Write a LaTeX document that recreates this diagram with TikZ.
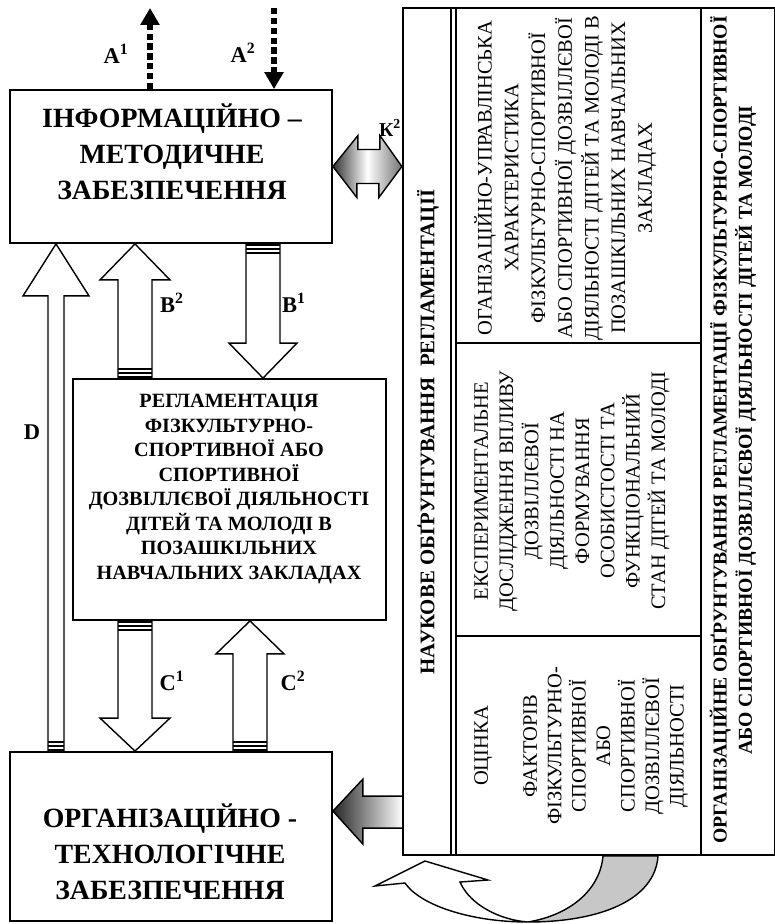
\documentclass[tikz,border=0pt]{standalone}
\usepackage{fontspec}
\setmainfont{Liberation Serif}
\usetikzlibrary{positioning,calc,arrows.meta}

% hollow block arrow: tail, tip, half shaft, half head, head length, +1 up / -1 down
\newcommand{\hollowarrow}[6]{%
  \draw[hollow] ($(#1)+(-#3,0)$) -- ($(#2)+(-#3,#6*#5)$) -- ($(#2)+(-#4,#6*#5)$) -- (#2)
    -- ($(#2)+(#4,#6*#5)$) -- ($(#2)+(#3,#6*#5)$) -- ($(#1)+(#3,0)$) -- cycle;
  \foreach \s in {1.5,5.5,9.5}
    \draw[stripe] ($(#1)+(-#3,{#6*(0-\s)})$) -- ($(#1)+(#3,{#6*(0-\s)})$);}

\begin{document}
\begin{tikzpicture}[
    x=0.25mm, y=-0.25mm,
    box/.style={draw, line width=1.3pt, inner sep=0pt},
    title/.style={font=\fontsize{19.8}{25.6}\selectfont\bfseries, align=center, inner sep=0pt},
    regtitle/.style={font=\fontsize{14.4}{17.4}\selectfont\bfseries, align=center, inner sep=0pt},
    coltitle/.style={font=\fontsize{14}{18}\selectfont\bfseries, align=center, inner sep=0pt, rotate=90},
    subtext/.style={font=\fontsize{14.6}{#1}\selectfont, align=center, inner sep=0pt, rotate=90, anchor=north},
    lbl/.style={font=\fontsize{16}{18}\selectfont\bfseries, inner sep=0pt},
    hollow/.style={draw, line width=1pt, fill=white},
    stripe/.style={line width=1.5pt},
    dotarrow/.style={-{Triangle[length=12pt,width=13pt]}, line width=4pt, dash pattern=on 4.5pt off 2.5pt},
    shadearrow/.style={draw, line width=1pt},
    frameline/.style={line width=1.3pt}
]
\useasboundingbox (0,0) rectangle (775,924);

% left blocks
\node[box, minimum width=80.5mm, minimum height=38.25mm] (info) at (171,166.5) {};
\node[title] (infotext) at (172,152) {ІНФОРМАЦІЙНО –\\МЕТОДИЧНЕ\\ЗАБЕЗПЕЧЕННЯ};

\node[box, minimum width=78.25mm, minimum height=60.25mm] (reg) at (229.5,499.5) {};
\node[regtitle] (regtext) at (229,489) {РЕГЛАМЕНТАЦІЯ\\ФІЗКУЛЬТУРНО-\\СПОРТИВНОЇ АБО\\СПОРТИВНОЇ\\ДОЗВІЛЛЄВОЇ ДІЯЛЬНОСТІ\\ДІТЕЙ ТА МОЛОДІ В\\ПОЗАШКІЛЬНИХ\\НАВЧАЛЬНИХ ЗАКЛАДАХ};

\node[box, minimum width=80.5mm, minimum height=42.25mm] (orgtech) at (171,836.5) {};
\node[title] (orgtext) at (170,852) {ОРГАНІЗАЦІЙНО -\\ТЕХНОЛОГІЧНЕ\\ЗАБЕЗПЕЧЕННЯ};

% right frame
\node[box, line width=1.6pt, minimum width=93mm, minimum height=211.75mm] (frame) at (589,431.5) {};
\draw[line width=1.4pt] ($(frame.north west)+(49,0)$) -- ($(frame.south west)+(49,0)$);
\draw[line width=1pt] ($(frame.north west)+(54,0)$) -- ($(frame.south west)+(54,0)$);
\draw[frameline] ($(frame.north west)+(299,0)$) -- ($(frame.south west)+(299,0)$);
\draw[frameline] ($(frame.north west)+(54,336)$) -- ++(245,0);
\draw[frameline] ($(frame.north west)+(54,629)$) -- ++(245,0);

\node[coltitle, font=\fontsize{14.8}{18}\selectfont\bfseries] (sci) at (428,432) {НАУКОВЕ ОБҐРУНТУВАННЯ \ РЕГЛАМЕНТАЦІЇ};
\node[subtext=19pt] (sub1) at (474,178) {ОГАНІЗАЦІЙНО-УПРАВЛІНСЬКА\\ХАРАКТЕРИСТИКА\\ФІЗКУЛЬТУРНО-СПОРТИВНОЇ\\АБО СПОРТИВНОЇ ДОЗВІЛЛЄВОЇ\\ДІЯЛЬНОСТІ ДІТЕЙ ТА МОЛОДІ В\\ПОЗАШКІЛЬНИХ НАВЧАЛЬНИХ\\ЗАКЛАДАХ};
\node[subtext=18pt] (sub2) at (474,491) {ЕКСПЕРИМЕНТАЛЬНЕ\\ДОСЛІДЖЕННЯ ВПЛИВУ\\ДОЗВІЛЛЄВОЇ\\ДІЯЛЬНОСТІ НА\\ФОРМУВАННЯ\\ОСОБИСТОСТІ ТА\\ФУНКЦІОНАЛЬНИЙ\\СТАН ДІТЕЙ ТА МОЛОДІ};
\node[subtext=17.4pt] (sub3) at (474,746) {ОЦІНКА\\[17.4pt]ФАКТОРІВ\\ФІЗКУЛЬТУРНО-\\СПОРТИВНОЇ\\АБО\\СПОРТИВНОЇ\\ДОЗВІЛЛЄВОЇ\\ДІЯЛЬНОСТІ};
\node[coltitle] (orgfound) at (733,430) {ОРГАНІЗАЦІЙНЕ ОБҐРУНТУВАННЯ РЕГЛАМЕНТАЦІЇ ФІЗКУЛЬТУРНО-СПОРТИВНОЇ\\АБО СПОРТИВНОЇ ДОЗВІЛЛЄВОЇ ДІЯЛЬНОСТІ ДІТЕЙ ТА МОЛОДІ};

% dotted inputs / outputs
\coordinate (a1end) at (150,8);
\coordinate (a2start) at (274,8);
\draw[dotarrow] (a1end |- info.north) -- (a1end);
\draw[dotarrow] (a2start) -- (a2start |- info.north);
\node[lbl] (a1) at (116,54) {А\textsuperscript{1}};
\node[lbl] (a2) at (243,53) {А\textsuperscript{2}};

% block arrows between the left blocks
\coordinate (dT) at (56,0 |- orgtech.north);
\coordinate (dH) at (56,0 |- info.south);
\coordinate (b2T) at (135,0 |- reg.north);
\coordinate (b2H) at (135,0 |- info.south);
\coordinate (b1T) at (263,0 |- info.south);
\coordinate (b1H) at (263,0 |- reg.north);
\coordinate (c1T) at (135,0 |- reg.south);
\coordinate (c1H) at (135,0 |- orgtech.north);
\coordinate (c2T) at (250,0 |- orgtech.north);
\coordinate (c2H) at (250,0 |- reg.south);
\hollowarrow{dT}{dH}{8}{33}{52}{1}
\hollowarrow{b2T}{b2H}{17}{35}{36}{1}
\hollowarrow{b1T}{b1H}{17}{34}{35}{-1}
\hollowarrow{c1T}{c1H}{17}{35}{33}{-1}
\hollowarrow{c2T}{c2H}{17}{34}{33}{1}
\node[lbl] (d) at (32,432) {D};
\node[lbl] (b2) at (172,303) {В\textsuperscript{2}};
\node[lbl] (b1) at (294,303) {В\textsuperscript{1}};
\node[lbl] (c1) at (172,681) {С\textsuperscript{1}};
\node[lbl] (c2) at (293,681) {С\textsuperscript{2}};

% shaded arrows to and from the frame
\draw[shadearrow, left color=black!80, right color=black!55, middle color=white]
  (info.east) -- ++(25,-31) -- ++(0,14) -- ++(22,0) -- ++(0,-14) -- (frame.west |- info.east)
  -- ++(-23,31) -- ++(0,-14) -- ++(-22,0) -- ++(0,14) -- cycle;
\node[lbl, font=\fontsize{14}{16}\selectfont\bfseries] (k2) at (390,128) {К\textsuperscript{2}};
\coordinate (orgin) at ($(orgtech.north east)+(0,60)$);
\draw[shadearrow, left color=black!85, right color=white]
  (orgin) -- ++(30,-32) -- ++(0,17) -- ++(40,0) -- ++(0,32) -- ++(-40,0) -- ++(0,16) -- cycle;

% curved arrow under the frame
\draw[shadearrow, fill=black!22] (603,856) .. controls (600,890) and (570,915) .. (528,922)
  .. controls (600,922) and (655,900) .. (658,856) -- cycle;
\draw[shadearrow, fill=white] (528,922) .. controls (470,922) and (420,905) .. (405,883)
  -- (375,886) -- (425,861) -- (488,880) -- (460,882) .. controls (470,905) and (500,920) .. (528,922) -- cycle;

\end{tikzpicture}
\end{document}
